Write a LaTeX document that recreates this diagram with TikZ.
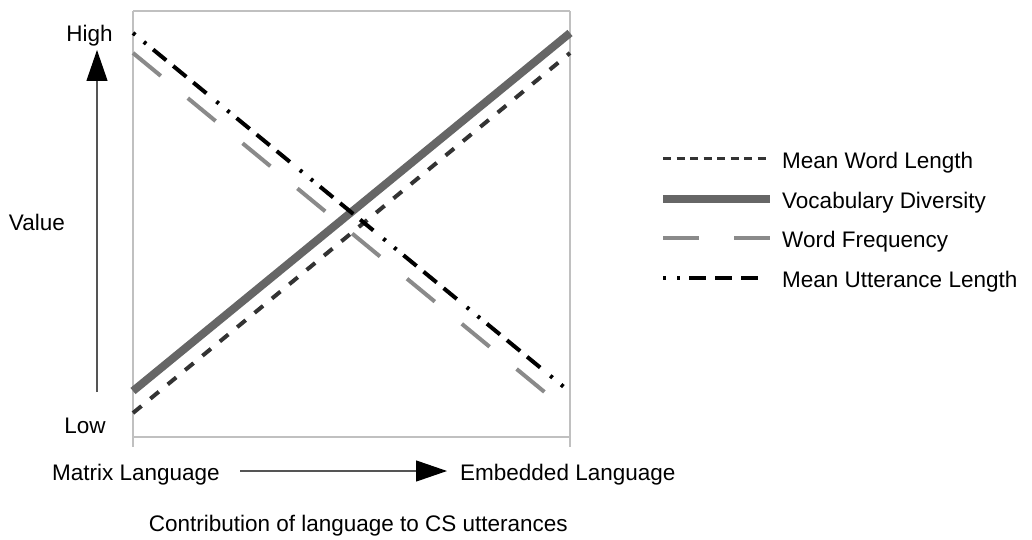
\documentclass[tikz,border=0pt]{standalone}
\usepackage{fontspec}
\setmainfont{Liberation Sans}
\usetikzlibrary{arrows.meta}
\definecolor{frame}{HTML}{C0C0C0}
\definecolor{mwl}{HTML}{333333}
\definecolor{vd}{HTML}{666666}
\definecolor{wf}{HTML}{8A8A8A}
\definecolor{axis}{HTML}{555555}
\tikzset{
  lbl/.style={inner sep=0pt, font=\fontsize{22.5}{27}\selectfont, text=black},
  framel/.style={draw=frame, line width=1.5pt},
  mwlline/.style={draw=mwl, line width=4pt, dash pattern=on 11pt off 11.5pt},
  vdline/.style={draw=vd, line width=8pt},
  wfline/.style={draw=wf, line width=4pt, dash pattern=on 36pt off 35pt},
  mulline/.style={draw=black, line width=4pt, dash pattern=on 3pt off 11pt on 3pt off 9pt on 17pt off 9pt on 17pt off 9pt on 17pt off 13pt},
  axarrow/.style={draw=axis, line width=1.2pt, -{Triangle[length=31pt,width=21pt,fill=black,color=black]}}
}
\begin{document}
\begin{tikzpicture}[x=1pt,y=-1pt]
\useasboundingbox (0,0) rectangle (1032,540);
% frame
\coordinate (tl) at (133,11);
\coordinate (tr) at (570,11);
\coordinate (bl) at (133,437);
\coordinate (br) at (570,437);
\coordinate (blx) at (133,447);
\coordinate (brx) at (570,447);
\draw[framel] (tl) -- (tr);
\draw[framel] (bl) -- (br);
\draw[framel] (tl) -- (blx);
\draw[framel] (tr) -- (brx);
% data lines
\coordinate (mwlA) at (133,413); \coordinate (mwlB) at (570,53);
\coordinate (vdA) at (133,391);  \coordinate (vdB) at (570,33);
\coordinate (wfA) at (133,53);   \coordinate (wfB) at (570,413);
\coordinate (mulA) at (133,33);  \coordinate (mulB) at (570,392);
\draw[wfline] (wfA) -- (wfB);
\draw[mwlline] (mwlA) -- (mwlB);
\draw[vdline] (vdA) -- (vdB);
\draw[mulline] (mulA) -- (mulB);
% axis labels
\node[lbl, anchor=base] (high) at (89.5,42) {High};
\node[lbl, anchor=base] (low) at (85,433) {Low};
\node[lbl, anchor=base east] (value) at (65,230) {Value};
\node[lbl, anchor=base east] (matrix) at (220,480) {Matrix Language};
\node[lbl, anchor=base west] (embedded) at (460,480) {Embedded Language};
\node[lbl, anchor=base east] (contrib) at (568,531) {Contribution of language to CS utterances};
% axis arrows
\coordinate (vA) at (97,392); \coordinate (vB) at (97,50);
\draw[axarrow] (vA) -- (vB);
\coordinate (hA) at (240,471); \coordinate (hB) at (447,471);
\draw[axarrow] (hA) -- (hB);
% legend
\coordinate (l1a) at (663,159);   \coordinate (l1b) at (770,159);
\coordinate (l2a) at (663,198.5); \coordinate (l2b) at (770,198.5);
\coordinate (l3a) at (663,238);   \coordinate (l3b) at (770,238);
\coordinate (l4a) at (663,277.5); \coordinate (l4b) at (770,277.5);
\draw[mwlline, line width=3pt, dash pattern=on 8pt off 5.5pt] (l1a) -- (l1b);
\draw[vdline] (l2a) -- (l2b);
\draw[wfline] (l3a) -- (l3b);
\draw[mulline] (l4a) -- (l4b);
\node[lbl, anchor=base west] (t1) at (782,168.5) {Mean Word Length};
\node[lbl, anchor=base west] (t2) at (782,208) {Vocabulary Diversity};
\node[lbl, anchor=base west] (t3) at (782,247.5) {Word Frequency};
\node[lbl, anchor=base west] (t4) at (782,287) {Mean Utterance Length};
\end{tikzpicture}
\end{document}
